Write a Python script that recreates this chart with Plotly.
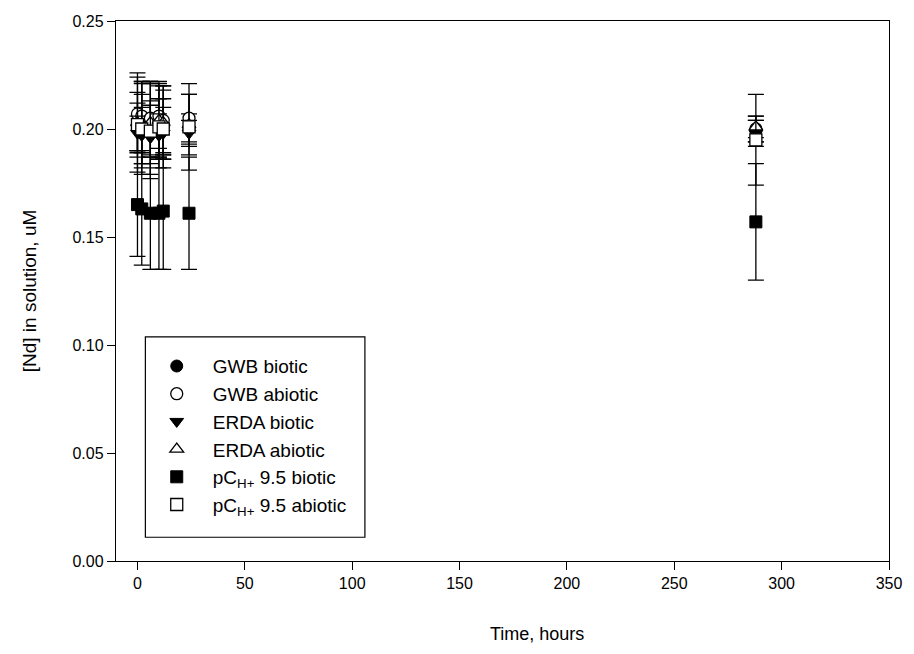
import plotly.graph_objects as go

# Sampling times (hours)
time_h = [0, 2, 6, 10, 12, 24, 288]

# [Nd] in solution (uM) and standard deviations per condition
gwb_biotic = [0.201, 0.200, 0.199, 0.200, 0.201, 0.200, 0.199]
gwb_biotic_sd = [0.011, 0.016, 0.012, 0.014, 0.013, 0.007, 0.005]
gwb_abiotic = [0.207, 0.206, 0.205, 0.206, 0.204, 0.205, 0.200]
gwb_abiotic_sd = [0.017, 0.016, 0.017, 0.015, 0.016, 0.011, 0.006]
erda_biotic = [0.198, 0.197, 0.196, 0.197, 0.198, 0.198, 0.198]
erda_biotic_sd = [0.008, 0.013, 0.017, 0.010, 0.012, 0.006, 0.006]
erda_abiotic = [0.203, 0.202, 0.203, 0.204, 0.203, 0.202, 0.201]
erda_abiotic_sd = [0.023, 0.020, 0.019, 0.018, 0.017, 0.014, 0.005]
pc_biotic = [0.165, 0.163, 0.161, 0.161, 0.162, 0.161, 0.157]
pc_biotic_sd = [0.024, 0.026, 0.026, 0.026, 0.027, 0.026, 0.027]
pc_abiotic = [0.202, 0.200, 0.199, 0.201, 0.200, 0.201, 0.195]
pc_abiotic_sd = [0.015, 0.021, 0.022, 0.019, 0.018, 0.020, 0.021]

x_ticks = [0, 50, 100, 150, 200, 250, 300, 350]
y_ticks = [0.00, 0.05, 0.10, 0.15, 0.20, 0.25]

series = [
    ("GWB biotic", gwb_biotic, gwb_biotic_sd, "circle", False),
    ("GWB abiotic", gwb_abiotic, gwb_abiotic_sd, "circle", True),
    ("ERDA biotic", erda_biotic, erda_biotic_sd, "triangle-down", False),
    ("ERDA abiotic", erda_abiotic, erda_abiotic_sd, "triangle-up", True),
    ("pC<sub>H+</sub> 9.5 biotic", pc_biotic, pc_biotic_sd, "square", False),
    ("pC<sub>H+</sub> 9.5 abiotic", pc_abiotic, pc_abiotic_sd, "square", True),
]

fig = go.Figure()
for i, (name, vals, sd, sym, hollow) in enumerate(series):
    marker = dict(symbol=sym, size=12,
                  color="white" if hollow else "black",
                  line=dict(color="black", width=1.3 if hollow else 1))
    fig.add_trace(go.Scatter(
        x=time_h, y=vals, mode="markers", name=name, marker=marker,
        legendgroup=f"g{i}",
        error_y=dict(type="data", array=sd, visible=True, color="black",
                     thickness=1.3, width=8),
    ))

# framed legend box (drawn as a shape so it can carry extra padding)
fig.add_shape(type="rect", xref="paper", yref="paper",
              x0=0.038, x1=0.322, y0=0.044, y1=0.415,
              line=dict(color="black", width=1.2), fillcolor="white",
              layer="below")

fig.update_layout(
    width=914, height=654,
    margin=dict(l=116, r=21, t=21, b=93),
    plot_bgcolor="white", paper_bgcolor="white",
    font=dict(family="Liberation Sans, Arial, sans-serif", size=16, color="black"),
    showlegend=True,
    legend=dict(x=0.032, y=0.396, xanchor="left", yanchor="top",
                borderwidth=0, bgcolor="rgba(0,0,0,0)",
                font=dict(size=19), itemwidth=62, tracegroupgap=6,
                traceorder="normal"),
    annotations=[dict(text="Time, hours", xref="paper", yref="paper",
                      x=0.545, y=-0.135, xanchor="center", yanchor="middle",
                      showarrow=False, font=dict(size=18))],
)
fig.update_xaxes(
    range=[-10, 350], tickvals=x_ticks, ticks="outside", ticklen=8,
    tickwidth=1.2, tickcolor="black", showline=True, linecolor="black",
    linewidth=1.4, mirror=True, showgrid=False, zeroline=False,
    tickfont=dict(size=16),
)
fig.update_yaxes(
    range=[0, 0.25], tickvals=y_ticks, tickformat=".2f", ticks="outside",
    ticklen=8, tickwidth=1.2, tickcolor="black", showline=True,
    linecolor="black", linewidth=1.4, mirror=True, showgrid=False,
    zeroline=False, tickfont=dict(size=16),
    title=dict(text="[Nd] in solution, uM", font=dict(size=19), standoff=30),
)

fig.write_html("out.html")
